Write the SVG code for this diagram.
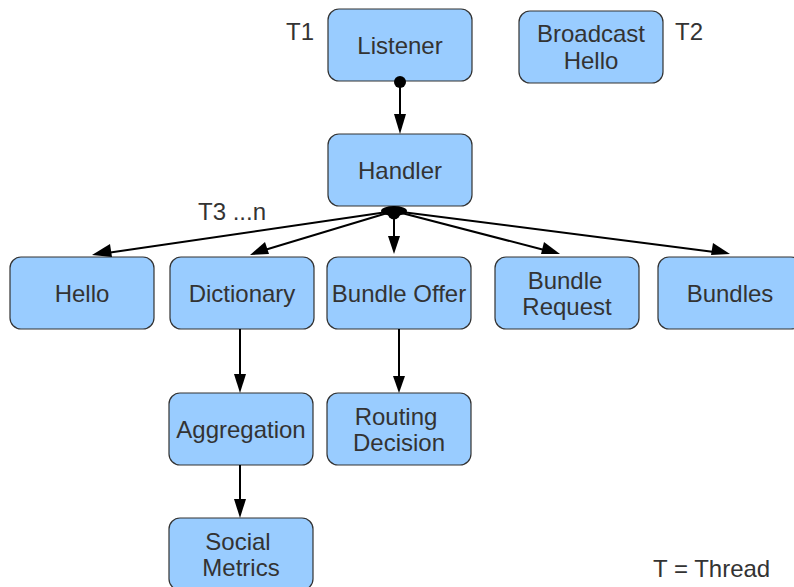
<svg xmlns="http://www.w3.org/2000/svg" width="794" height="587" viewBox="0 0 794 587">
<style>
.n rect{fill:#99ccff;stroke:#333;stroke-width:1.2}
.n text,.lbl{font-family:"Liberation Sans",Arial,sans-serif;font-size:24px;fill:#333;text-anchor:middle}
.lbl{text-anchor:start}
.c line{stroke:#000;stroke-width:2}
.c path,.c circle,.c ellipse{fill:#000}
</style>
<rect width="794" height="587" fill="#fff"/>
<g id="listener" class="n"><rect x="328" y="9" width="144" height="72" rx="11"/><text x="400" y="54">Listener</text></g>
<g id="broadcast" class="n"><rect x="519" y="11" width="144" height="72" rx="11"/><text x="591" y="42">Broadcast</text><text x="591" y="69">Hello</text></g>
<g id="handler" class="n"><rect x="328" y="134" width="144" height="72" rx="11"/><text x="400" y="179">Handler</text></g>
<g id="hello" class="n"><rect x="10" y="257" width="144" height="72" rx="11"/><text x="82" y="302">Hello</text></g>
<g id="dictionary" class="n"><rect x="170" y="257" width="144" height="72" rx="11"/><text x="242" y="302">Dictionary</text></g>
<g id="bundleoffer" class="n"><rect x="327" y="257" width="144" height="72" rx="11"/><text x="399" y="302">Bundle Offer</text></g>
<g id="bundlerequest" class="n"><rect x="495" y="257" width="144" height="72" rx="11"/><text x="565" y="289">Bundle</text><text x="567" y="315">Request</text></g>
<g id="bundles" class="n"><rect x="658" y="257" width="144" height="72" rx="11"/><text x="730" y="302">Bundles</text></g>
<g id="aggregation" class="n"><rect x="169" y="393" width="144" height="72" rx="11"/><text x="241" y="438">Aggregation</text></g>
<g id="routing" class="n"><rect x="327" y="393" width="144" height="72" rx="11"/><text x="396" y="425">Routing</text><text x="399" y="451">Decision</text></g>
<g id="social" class="n"><rect x="169" y="518" width="144" height="72" rx="11"/><text x="238" y="550">Social</text><text x="241" y="576">Metrics</text></g>
<g class="c">
<line x1="400" y1="81" x2="400" y2="120"/>
<path d="M394,114 L406,114 L400,134 z"/>
<circle cx="400" cy="82" r="6"/>
<line x1="394" y1="211" x2="100" y2="254"/>
<path d="M92,255 L110,244 L112,257 z"/>
<line x1="394" y1="211" x2="258" y2="252"/>
<path d="M250,255 L265,242 L269,254 z"/>
<line x1="394" y1="211" x2="394" y2="240"/>
<path d="M388,236 L400,236 L394,254 z"/>
<line x1="394" y1="211" x2="552" y2="252"/>
<path d="M560,254 L541,254 L544,242 z"/>
<line x1="394" y1="211" x2="722" y2="253"/>
<path d="M730,254 L711,255 L713,243 z"/>
<ellipse cx="394" cy="211" rx="13" ry="5"/>
<circle cx="394" cy="213" r="6.5"/>
<line x1="240" y1="329" x2="240" y2="378"/>
<path d="M234,374 L246,374 L240,393 z"/>
<line x1="240" y1="465" x2="240" y2="503"/>
<path d="M234,499 L246,499 L240,518 z"/>
<line x1="399" y1="329" x2="399" y2="378"/>
<path d="M393,376 L405,376 L399,393 z"/>
</g>
<text class="lbl" x="286" y="40">T1</text>
<text class="lbl" x="675" y="40">T2</text>
<text class="lbl" x="198" y="220">T3 ...n</text>
<text class="lbl" x="653" y="577">T = Thread</text>
</svg>
